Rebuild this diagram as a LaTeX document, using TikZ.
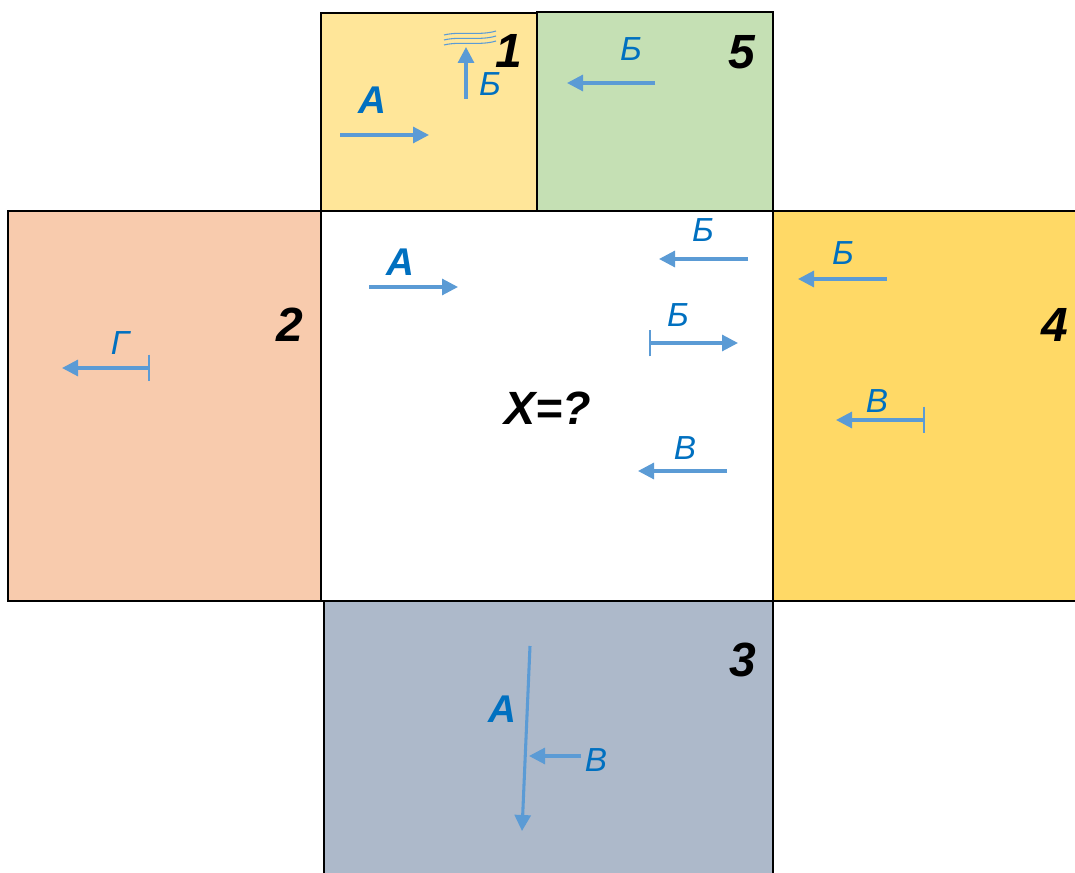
\documentclass[tikz,border=0pt]{standalone}
\usepackage{fontspec}
\setmainfont{Liberation Sans}
\usetikzlibrary{arrows.meta}
\definecolor{faceone}{HTML}{FFE699}
\definecolor{facefive}{HTML}{C5E0B4}
\definecolor{facetwo}{HTML}{F8CBAD}
\definecolor{facefour}{HTML}{FFD966}
\definecolor{facethree}{HTML}{ADB9CA}
\definecolor{arrblue}{HTML}{5B9BD5}
\definecolor{labblue}{HTML}{0070C0}
\tikzset{
  face/.style={draw=black,line width=0.8pt},
  mv/.style={arrblue,line width=2.3pt,-{Triangle[length=12pt,width=12pt]}},
  mvbar/.style={arrblue,line width=2.3pt,{Bar[width=20pt,line width=1.2pt]}-{Triangle[length=12pt,width=12pt]}},
  lab/.style={text=labblue,inner sep=1pt,font=\fontsize{25}{25}\selectfont\itshape},
  labA/.style={text=labblue,inner sep=1pt,font=\fontsize{29}{29}\selectfont\bfseries\itshape},
  num/.style={inner sep=1pt,font=\fontsize{36}{36}\selectfont\bfseries\itshape},
}
\begin{document}
\begin{tikzpicture}[x=0.75pt,y=-0.75pt]
  \useasboundingbox (0,0) rectangle (1075,873);
  % faces of the net
  \fill[white] (0,0) rectangle (1075,873);
  \draw[face,fill=faceone] (321,13) rectangle (537,211);
  \draw[face,fill=facefive] (537,12) rectangle (773,211);
  \draw[face,fill=facetwo] (8,211) rectangle (321,601);
  \draw[face,fill=white] (321,211) rectangle (773,601);
  \fill[facefour] (773,211) rectangle (1076,601);
  \draw[face] (1076,211) -- (773,211) -- (773,601) -- (1076,601);
  \draw[face,fill=facethree] (324,874) -- (324,601) -- (773,601) -- (773,874);
  % face 1
  \node[num] (n1) at (509,51) {1};
  \node[labA] (a1) at (372,100) {A};
  \draw[mv] (340,135) -- (429,135);
  \draw[mv] (466,99) -- (466,47);
  \node[lab] (b1) at (490,84) {Б};
  \foreach \dy in {0,5,10}
    \draw[arrblue,line width=0.8pt] (444,35+\dy) .. controls (460,31+\dy) and (480,36+\dy) .. (496,31+\dy);
  % face 5
  \node[num] (n5) at (742,52) {5};
  \node[lab] (b5) at (631,49) {Б};
  \draw[mv] (655,83) -- (567,83);
  % face 2
  \node[num] (n2) at (290,325) {2};
  \node[lab] (g2) at (120,343) {Г};
  \draw[mvbar] (150,368) -- (62,368);
  % centre face
  \node[font=\fontsize{35}{35}\selectfont\bfseries\itshape] (x) at (548,408) {X=?};
  \node[labA] (ac) at (400,262) {A};
  \draw[mv] (369,287) -- (458,287);
  \node[lab] (bc1) at (703,230) {Б};
  \draw[mv] (748,259) -- (659,259);
  \node[lab] (bc2) at (678,315) {Б};
  \draw[mvbar] (649,343) -- (738,343);
  \node[lab] (vc) at (685,448) {В};
  \draw[mv] (727,471) -- (638,471);
  % face 4
  \node[num] (n4) at (1055,325) {4};
  \node[lab] (b4) at (843,253) {Б};
  \draw[mv] (887,279) -- (798,279);
  \node[lab] (v4) at (877,401) {В};
  \draw[mvbar] (925,420) -- (836,420);
  % face 3
  \node[num] (n3) at (743,660) {3};
  \node[labA] (a3) at (502,709) {A};
  \draw[mv] (530,646) -- (522,831);
  \node[lab] (v3) at (596,760) {В};
  \draw[mv] (581,756) -- (529,756);
\end{tikzpicture}
\end{document}
